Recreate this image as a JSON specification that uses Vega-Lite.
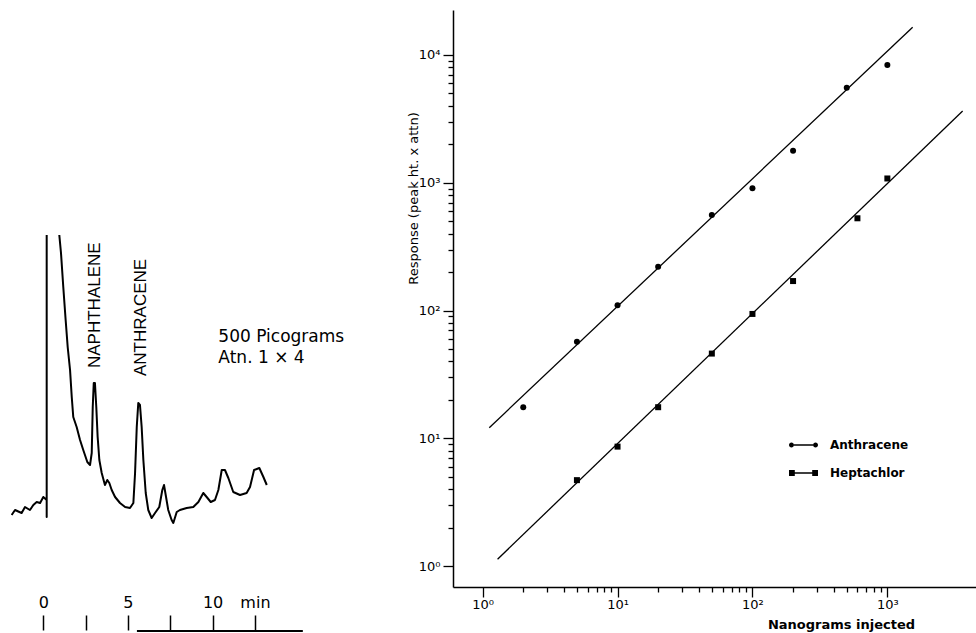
{
  "$schema": "https://vega.github.io/schema/vega-lite/v6.json",
  "background": "white",
  "padding": {"top": 10, "left": 0, "right": 0, "bottom": 0},
  "autosize": {"type": "pad"},
  "bounds": "flush",
  "spacing": 148,
  "config": {"view": {"stroke": null}, "font": "DejaVu Sans"},
  "hconcat": [
    {
      "width": 305,
      "height": 622,
      "encoding": {
        "x": {
          "field": "t", "type": "quantitative",
          "scale": {"domain": [-2.558, 15.458], "nice": false, "zero": false},
          "axis": {
            "orient": "top", "offset": -620, "values": [0, 2.5, 5, 7.5, 10, 12.5],
            "labelExpr": "datum.value == 12.5 ? 'min' : datum.value == 0 ? '0' : datum.value == 5 ? '5' : datum.value == 10 ? '10' : ''",
            "domain": false, "grid": false, "ticks": true, "tickSize": 15, "tickWidth": 1.5, "tickColor": "black",
            "labelFont": "DejaVu Sans", "labelFontSize": 16, "labelColor": "black", "labelBaseline": "alphabetic",
            "labelPadding": 8, "labelOverlap": false, "labelFlush": false, "title": null
          }
        },
        "y": {
          "field": "s", "type": "quantitative",
          "scale": {"domain": [-99, 523], "nice": false, "zero": false},
          "axis": null
        }
      },
      "layer": [
        {
          "data": {"values": [
            {"seg": "a", "i": 0, "t": -1.87, "s": 18},
            {"seg": "a", "i": 1, "t": -1.67, "s": 23},
            {"seg": "a", "i": 2, "t": -1.28, "s": 20},
            {"seg": "a", "i": 3, "t": -1.08, "s": 26},
            {"seg": "a", "i": 4, "t": -0.79, "s": 23},
            {"seg": "a", "i": 5, "t": -0.59, "s": 28},
            {"seg": "a", "i": 6, "t": -0.39, "s": 31},
            {"seg": "a", "i": 7, "t": -0.19, "s": 30},
            {"seg": "a", "i": 8, "t": 0.0, "s": 36},
            {"seg": "a", "i": 9, "t": 0.2, "s": 33},
            {"seg": "a", "i": 10, "t": 0.2, "s": 16},
            {"seg": "a", "i": 11, "t": 0.2, "s": 298},
            {"seg": "b", "i": 0, "t": 0.945, "s": 298},
            {"seg": "b", "i": 1, "t": 1.045, "s": 280},
            {"seg": "b", "i": 2, "t": 1.18, "s": 246},
            {"seg": "b", "i": 3, "t": 1.32, "s": 213},
            {"seg": "b", "i": 4, "t": 1.44, "s": 186},
            {"seg": "b", "i": 5, "t": 1.58, "s": 163},
            {"seg": "b", "i": 6, "t": 1.68, "s": 136},
            {"seg": "b", "i": 7, "t": 1.77, "s": 116},
            {"seg": "b", "i": 8, "t": 1.97, "s": 106},
            {"seg": "b", "i": 9, "t": 2.17, "s": 93},
            {"seg": "b", "i": 10, "t": 2.36, "s": 83},
            {"seg": "b", "i": 11, "t": 2.6, "s": 71},
            {"seg": "b", "i": 12, "t": 2.76, "s": 68},
            {"seg": "b", "i": 13, "t": 2.86, "s": 80},
            {"seg": "b", "i": 14, "t": 2.92, "s": 126},
            {"seg": "b", "i": 15, "t": 2.98, "s": 150},
            {"seg": "b", "i": 16, "t": 3.05, "s": 150},
            {"seg": "b", "i": 17, "t": 3.13, "s": 126},
            {"seg": "b", "i": 18, "t": 3.21, "s": 96},
            {"seg": "b", "i": 19, "t": 3.31, "s": 73},
            {"seg": "b", "i": 20, "t": 3.45, "s": 60},
            {"seg": "b", "i": 21, "t": 3.64, "s": 48},
            {"seg": "b", "i": 22, "t": 3.78, "s": 53},
            {"seg": "b", "i": 23, "t": 3.9, "s": 50},
            {"seg": "b", "i": 24, "t": 4.04, "s": 43},
            {"seg": "b", "i": 25, "t": 4.24, "s": 36},
            {"seg": "b", "i": 26, "t": 4.53, "s": 30},
            {"seg": "b", "i": 27, "t": 4.83, "s": 26},
            {"seg": "b", "i": 28, "t": 5.12, "s": 25},
            {"seg": "b", "i": 29, "t": 5.32, "s": 30},
            {"seg": "b", "i": 30, "t": 5.42, "s": 60},
            {"seg": "b", "i": 31, "t": 5.52, "s": 106},
            {"seg": "b", "i": 32, "t": 5.61, "s": 130},
            {"seg": "b", "i": 33, "t": 5.71, "s": 128},
            {"seg": "b", "i": 34, "t": 5.81, "s": 106},
            {"seg": "b", "i": 35, "t": 5.91, "s": 73},
            {"seg": "b", "i": 36, "t": 6.05, "s": 40},
            {"seg": "b", "i": 37, "t": 6.2, "s": 23},
            {"seg": "b", "i": 38, "t": 6.4, "s": 15},
            {"seg": "b", "i": 39, "t": 6.6, "s": 20},
            {"seg": "b", "i": 40, "t": 6.85, "s": 26},
            {"seg": "b", "i": 41, "t": 7.03, "s": 43},
            {"seg": "b", "i": 42, "t": 7.13, "s": 48},
            {"seg": "b", "i": 43, "t": 7.25, "s": 36},
            {"seg": "b", "i": 44, "t": 7.38, "s": 23},
            {"seg": "b", "i": 45, "t": 7.58, "s": 13},
            {"seg": "b", "i": 46, "t": 7.68, "s": 10},
            {"seg": "b", "i": 47, "t": 7.88, "s": 21},
            {"seg": "b", "i": 48, "t": 8.07, "s": 23},
            {"seg": "b", "i": 49, "t": 8.47, "s": 25},
            {"seg": "b", "i": 50, "t": 8.86, "s": 26},
            {"seg": "b", "i": 51, "t": 9.16, "s": 31},
            {"seg": "b", "i": 52, "t": 9.45, "s": 40},
            {"seg": "b", "i": 53, "t": 9.65, "s": 36},
            {"seg": "b", "i": 54, "t": 9.89, "s": 31},
            {"seg": "b", "i": 55, "t": 10.14, "s": 33},
            {"seg": "b", "i": 56, "t": 10.34, "s": 43},
            {"seg": "b", "i": 57, "t": 10.54, "s": 63},
            {"seg": "b", "i": 58, "t": 10.73, "s": 63},
            {"seg": "b", "i": 59, "t": 10.93, "s": 55},
            {"seg": "b", "i": 60, "t": 11.22, "s": 41},
            {"seg": "b", "i": 61, "t": 11.62, "s": 38},
            {"seg": "b", "i": 62, "t": 12.01, "s": 40},
            {"seg": "b", "i": 63, "t": 12.21, "s": 46},
            {"seg": "b", "i": 64, "t": 12.45, "s": 63},
            {"seg": "b", "i": 65, "t": 12.76, "s": 65},
            {"seg": "b", "i": 66, "t": 13.0, "s": 56},
            {"seg": "b", "i": 67, "t": 13.2, "s": 48}
          ]},
          "mark": {"type": "line", "color": "black", "strokeWidth": 2, "strokeJoin": "round"},
          "encoding": {
            "detail": {"field": "seg", "type": "nominal"},
            "order": {"field": "i", "type": "quantitative"}
          }
        },
        {
          "data": {"values": [{"t": 5.53, "t2": 15.33, "s": -98}]},
          "mark": {"type": "rule", "color": "black", "strokeWidth": 2},
          "encoding": {
            "x2": {"field": "t2"}
          }
        },
        {
          "data": {"values": [
            {"t": 3.35, "s": 165, "label": "NAPHTHALENE"},
            {"t": 6.05, "s": 157, "label": "ANTHRACENE"}
          ]},
          "mark": {"type": "text", "angle": 270, "align": "left", "baseline": "alphabetic", "font": "Liberation Sans", "fontSize": 17, "color": "black"},
          "encoding": {
            "text": {"field": "label", "type": "nominal"}
          }
        },
        {
          "data": {"values": [
            {"t": 10.34, "s": 196, "label": "500 Picograms"},
            {"t": 10.34, "s": 175, "label": "Atn. 1 × 4"}
          ]},
          "mark": {"type": "text", "align": "left", "baseline": "middle", "font": "DejaVu Sans", "fontSize": 17, "color": "black"},
          "encoding": {
            "text": {"field": "label", "type": "nominal"}
          }
        }
      ]
    },
    {
      "width": 523,
      "height": 577,
      "encoding": {
        "x": {
          "field": "ng", "type": "quantitative",
          "scale": {"type": "log", "domain": [0.603, 4540], "nice": false},
          "axis": {
            "values": [1, 2, 3, 4, 5, 6, 7, 8, 9, 10, 20, 30, 40, 50, 60, 70, 80, 90, 100, 200, 300, 400, 500, 600, 700, 800, 900, 1000],
            "labelExpr": "abs(log(datum.value)/LN10 - round(log(datum.value)/LN10)) < 0.001 ? ['10⁰','10¹','10²','10³','10⁴'][round(log(datum.value)/LN10)] : ''",
            "tickSize": {"condition": {"test": "abs(log(datum.value)/LN10 - round(log(datum.value)/LN10)) < 0.001", "value": 10}, "value": 5},
            "labelPadding": 1, "labelFont": "DejaVu Sans", "labelFontSize": 13, "labelColor": "black",
            "labelOverlap": false, "labelFlush": false, "grid": false,
            "domainColor": "black", "domainWidth": 1.5, "tickColor": "black", "tickWidth": 1.3,
            "title": "Nanograms injected", "titleFont": "DejaVu Sans", "titleFontSize": 13, "titleFontWeight": "bold",
            "titleColor": "black", "titleX": 388, "titleY": 41, "titleAlign": "center", "titleBaseline": "alphabetic"
          }
        },
        "y": {
          "field": "resp", "type": "quantitative",
          "scale": {"type": "log", "domain": [0.685, 22500], "nice": false},
          "axis": {
            "values": [1, 2, 3, 4, 5, 6, 7, 8, 9, 10, 20, 30, 40, 50, 60, 70, 80, 90, 100, 200, 300, 400, 500, 600, 700, 800, 900, 1000, 2000, 3000, 4000, 5000, 6000, 7000, 8000, 9000, 10000],
            "labelExpr": "abs(log(datum.value)/LN10 - round(log(datum.value)/LN10)) < 0.001 ? ['10⁰','10¹','10²','10³','10⁴'][round(log(datum.value)/LN10)] : ''",
            "tickSize": {"condition": {"test": "abs(log(datum.value)/LN10 - round(log(datum.value)/LN10)) < 0.001", "value": 10}, "value": 5},
            "labelPadding": 3, "labelFont": "DejaVu Sans", "labelFontSize": 13, "labelColor": "black",
            "labelOverlap": false, "labelFlush": false, "grid": false,
            "domainColor": "black", "domainWidth": 1.5, "tickColor": "black", "tickWidth": 1.3,
            "title": "Response (peak ht. x attn)", "titleFont": "DejaVu Sans", "titleFontSize": 13, "titleFontWeight": "normal",
            "titleColor": "black", "titleX": -33, "titleY": 188, "titleAlign": "center", "titleBaseline": "bottom"
          }
        }
      },
      "layer": [
        {
          "data": {"values": [
            {"compound": "Anthracene", "ng": 1.12, "resp": 12.1, "ng2": 1540, "resp2": 16500},
            {"compound": "Heptachlor", "ng": 1.29, "resp": 1.13, "ng2": 3615, "resp2": 3645}
          ]},
          "mark": {"type": "rule", "color": "black", "strokeWidth": 1.3},
          "encoding": {
            "x2": {"field": "ng2"},
            "y2": {"field": "resp2"}
          }
        },
        {
          "data": {"values": [
            {"compound": "Anthracene", "ng": 2, "resp": 17.5},
            {"compound": "Anthracene", "ng": 5, "resp": 57},
            {"compound": "Anthracene", "ng": 10, "resp": 110},
            {"compound": "Anthracene", "ng": 20, "resp": 220},
            {"compound": "Anthracene", "ng": 50, "resp": 560},
            {"compound": "Anthracene", "ng": 100, "resp": 905},
            {"compound": "Anthracene", "ng": 200, "resp": 1780},
            {"compound": "Anthracene", "ng": 500, "resp": 5550},
            {"compound": "Anthracene", "ng": 1000, "resp": 8350},
            {"compound": "Heptachlor", "ng": 5, "resp": 4.7},
            {"compound": "Heptachlor", "ng": 10, "resp": 8.6},
            {"compound": "Heptachlor", "ng": 20, "resp": 17.5},
            {"compound": "Heptachlor", "ng": 50, "resp": 46},
            {"compound": "Heptachlor", "ng": 100, "resp": 94},
            {"compound": "Heptachlor", "ng": 200, "resp": 170},
            {"compound": "Heptachlor", "ng": 600, "resp": 527},
            {"compound": "Heptachlor", "ng": 1000, "resp": 1080}
          ]},
          "mark": {"type": "point", "filled": true, "color": "black", "size": 36, "opacity": 1},
          "encoding": {
            "shape": {
              "field": "compound", "type": "nominal",
              "scale": {"domain": ["Anthracene", "Heptachlor"], "range": ["circle", "square"]},
              "legend": null
            }
          }
        },
        {
          "data": {"values": [
            {"compound": "Anthracene", "ng": 1.12, "resp": 12.1},
            {"compound": "Heptachlor", "ng": 1.29, "resp": 1.13}
          ]},
          "mark": {"type": "point", "filled": true, "color": "black", "size": 0},
          "encoding": {
            "shape": {
              "field": "compound", "type": "nominal",
              "scale": {
                "domain": ["Anthracene", "Heptachlor"],
                "range": [
                  "M-1,0a0.17,0.17 0 1,0 0.34,0a0.17,0.17 0 1,0 -0.34,0ZM0.66,0a0.17,0.17 0 1,0 0.34,0a0.17,0.17 0 1,0 -0.34,0ZM-0.66,-0.045H0.66V0.045H-0.66Z",
                  "M-1,-0.2H-0.6V0.2H-1ZM0.6,-0.2H1V0.2H0.6ZM-0.6,-0.045H0.6V0.045H-0.6Z"
                ]
              },
              "legend": {
                "title": null, "orient": "none", "legendX": 336, "legendY": 420.5,
                "symbolSize": 841, "symbolStrokeWidth": 0, "symbolFillColor": "black", "symbolOpacity": 1,
                "labelFont": "DejaVu Sans", "labelFontSize": 12, "labelFontWeight": "bold", "labelColor": "black",
                "labelOffset": 12, "rowPadding": 7, "padding": 0
              }
            }
          }
        }
      ],
      "resolve": {"scale": {"shape": "independent"}, "legend": {"shape": "independent"}}
    }
  ]
}
